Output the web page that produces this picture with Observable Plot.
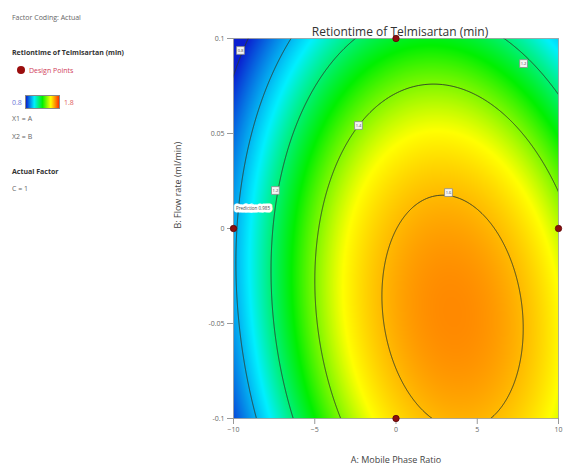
<!DOCTYPE html>
<html>
<head>
<meta charset="utf-8">
<script src="https://cdn.jsdelivr.net/npm/d3@7"></script>
<script src="https://cdn.jsdelivr.net/npm/@observablehq/plot@0.6"></script>
<style>
  body { margin: 0; background: #fff; font-family: "Open Sans", sans-serif; }
  #wrap { position: relative; width: 567px; height: 471px; }
  #wrap svg { position: absolute; left: 0; top: 0; }
  .leg { position: absolute; left: 12px; font-size: 7px; color: #666; white-space: nowrap; line-height: 1; }
  .bold { font-weight: 700; color: #333; }
</style>
</head>
<body>
<div id="wrap"></div>
<script>
// ---- data ----
const title = "Retiontime of Telmisartan (min)";
const xLabel = "A: Mobile Phase Ratio";
const yLabel = "B: Flow rate (ml/min)";
const xTicks = [-10, -5, 0, 5, 10];
const yTicks = [-0.1, -0.05, 0, 0.05, 0.1];
const xRange = [-10, 10];
const yRange = [-0.1, 0.1];
// quadratic response-surface coefficients (coded units): intercept, A, B, AB, A^2, B^2
const coef = [1.599, 0.235, -0.143, -0.075, -0.385, -0.192];
const levels = [0.8, 1.0, 1.2, 1.4, 1.6];
const designA = [0, -10, 10, 0];
const designB = [0.1, 0, 0, -0.1];
const labelA = [-9.57, -7.42, -2.31, 3.23, 7.85];
const labelB = [0.0937, 0.02, 0.0542, 0.0189, 0.0868];
const labelText = ["0.8", "1.2", "1.4", "1.6", "1.2"];
const predA = [-8.8];
const predB = [0.0105];
const predText = ["Prediction 0.985"];
const colorDomain = [0.8, 1.08, 1.3, 1.5, 1.8];
const colorRange = ["#0a1fd0", "#00f0ff", "#00f000", "#ffff00", "#ff3000"];
const legendLow = "0.8", legendHigh = "1.8";

function surface(x, y) {
  const a = x / 10, b = y / 0.1;
  return coef[0] + coef[1]*a + coef[2]*b + coef[3]*a*b + coef[4]*a*a + coef[5]*b*b;
}

const labels = labelA.map((a, i) => ({A: a, B: labelB[i], t: labelText[i]}));
const design = designA.map((a, i) => ({A: a, B: designB[i]}));
const pred = predA.map((a, i) => ({A: a, B: predB[i], t: predText[i]}));

const plot = Plot.plot({
  width: 567, height: 471,
  marginLeft: 233, marginRight: 9, marginTop: 38, marginBottom: 53,
  x: {domain: xRange},
  y: {domain: yRange},
  color: {type: "linear", domain: colorDomain, range: colorRange, clamp: true},
  style: {fontFamily: "Open Sans", fontSize: "7px", color: "#555", background: "transparent"},
  marks: [
    Plot.raster({x1: xRange[0], x2: xRange[1], y1: yRange[0], y2: yRange[1], fill: surface, pixelSize: 1}),
    Plot.contour({x1: -10.6, x2: 10.6, y1: -0.106, y2: 0.106, value: surface, thresholds: levels,
      stroke: "#2c3a2a", strokeWidth: 0.9, fill: "none", pixelSize: 1, clip: true}),
    Plot.frame({stroke: "#9a9a9a", strokeWidth: 0.8}),
    Plot.axisX({ticks: xTicks, tickSize: 6, tickPadding: 3, label: null, stroke: "#999", fill: "#666"}),
    Plot.axisY({ticks: yTicks, tickSize: 6, tickPadding: 3, tickFormat: d => String(d), label: null, stroke: "#999", fill: "#666"}),
    Plot.dot(labels, {x: "A", y: "B", symbol: "square", r: 4.4, fill: "#f5f5f5", stroke: "#8a8a8a", strokeWidth: 0.8}),
    Plot.text(labels, {x: "A", y: "B", text: "t", fontSize: 4, fill: "#444"}),
    Plot.text(pred, {x: "A", y: "B", text: "t", fontSize: 4.5, fill: "#444", stroke: "white", strokeWidth: 5}),
    Plot.dot(design, {x: "A", y: "B", r: 3.2, fill: "#8c0f0f", stroke: "#5a0505", strokeWidth: 0.8}),
    Plot.text([title], {frameAnchor: "top", dx: 4, dy: -11, fontSize: 12, fill: "#333"}),
    Plot.text([xLabel], {frameAnchor: "bottom", dy: 44, fontSize: 9, fill: "#444"}),
    Plot.text([yLabel], {frameAnchor: "left", dx: -55, rotate: -90, fontSize: 9, fill: "#444"})
  ]
});

const wrap = document.getElementById("wrap");
wrap.appendChild(plot);

const grad = "linear-gradient(to right," + colorRange.join(",") + ")";
const legendHTML = `
  <div class="leg" style="top:14px">Factor Coding: Actual</div>
  <div class="leg bold" style="top:49px">${title}</div>
  <div class="leg" style="top:66px;left:17px"><span style="display:inline-block;width:8px;height:8px;border-radius:50%;background:#9a0d0d;vertical-align:middle;margin-right:4px"></span><span style="color:#d0405a;vertical-align:middle">Design Points</span></div>
  <div class="leg" style="top:99px;color:#6a78d8">${legendLow}</div>
  <div style="position:absolute;left:25px;top:95px;width:35px;height:14px;background:${grad};border:1px solid #888;box-sizing:border-box"></div>
  <div class="leg" style="top:99px;left:64px;color:#e05a5a">${legendHigh}</div>
  <div class="leg" style="top:115px">X1 = A</div>
  <div class="leg" style="top:133px">X2 = B</div>
  <div class="leg bold" style="top:168px">Actual Factor</div>
  <div class="leg" style="top:185px">C = 1</div>`;
const lg = document.createElement("div");
lg.innerHTML = legendHTML;
wrap.appendChild(lg);
</script>
</body>
</html>
